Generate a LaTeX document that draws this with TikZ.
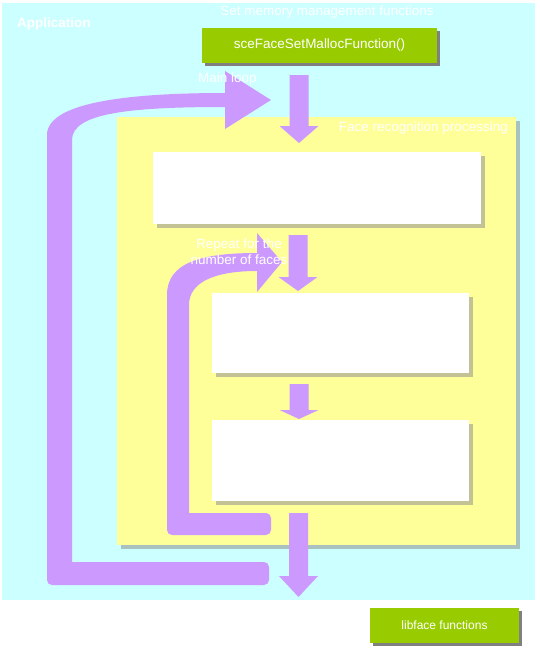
\documentclass[tikz,border=0pt]{standalone}
\usepackage{fontspec}
\setmainfont{Liberation Sans}
\usetikzlibrary{shadows}
\definecolor{cyanbg}{HTML}{CCFFFF}
\definecolor{yellowbg}{HTML}{FFFF99}
\definecolor{purp}{HTML}{CC99FF}
\definecolor{greenc}{HTML}{99CC00}
\definecolor{yshadow}{HTML}{A9C2C0}
\definecolor{wshadow}{HTML}{C2C294}
\definecolor{gshadow}{HTML}{808080}
\newcommand\dnarrow[4]{% cx, top, base, tip
  \fill[purp] (#1-9.5,#2) -- (#1+9.5,#2) -- (#1+9.5,#3) -- (#1+19.5,#3) -- (#1,#4) -- (#1-19.5,#3) -- (#1-9.5,#3) -- cycle;}
\begin{document}
\begin{tikzpicture}[x=1pt,y=-1pt,
  panel/.style={inner sep=0pt, outer sep=0pt, draw=none},
  whitebox/.style={panel, fill=white, drop shadow={shadow xshift=4pt, shadow yshift=-4pt, fill=wshadow, opacity=1}},
  greenbox/.style={panel, fill=greenc, text=white, drop shadow={shadow xshift=3pt, shadow yshift=-3pt, fill=gshadow, opacity=1}},
  lbl/.style={text=white, inner sep=0pt, font=\fontsize{13.5}{16}\selectfont}]
\useasboundingbox (0,0) rectangle (540,651);
\fill[white] (0,0) rectangle (540,651);
% application area
\node[panel, fill=cyanbg, minimum width=533pt, minimum height=597pt] (app) at (268.5,301.5) {};
% face recognition processing area
\node[panel, fill=yellowbg, minimum width=399pt, minimum height=428pt,
  drop shadow={shadow xshift=4pt, shadow yshift=-4pt, fill=yshadow, opacity=1}] (frp) at (316.5,331) {};
% white boxes
\node[whitebox, minimum width=328pt, minimum height=72pt] (b1) at (317,188) {};
\node[whitebox, minimum width=257pt, minimum height=80pt] (b2) at (340.5,333) {};
\node[whitebox, minimum width=257pt, minimum height=81pt] (b3) at (340.5,460.5) {};
% main loop arrow
\fill[purp] (47,572) -- (47,135) .. controls (47,104) and (120,93) .. (225,93) -- (225,71) -- (271,100) -- (225,129) -- (225,107) .. controls (130,107) and (72,113) .. (72,140) -- (72,572) -- cycle;
\fill[purp, rounded corners=5pt] (47,562) rectangle (269,585);
% repeat loop arrow
\fill[purp] (167,525) -- (167,295) .. controls (167,263) and (200,253) .. (257,253) -- (257,233) -- (282,262) -- (257,292) -- (257,271) .. controls (215,271) and (189,282) .. (189,305) -- (189,525) -- cycle;
\fill[purp, rounded corners=5pt] (167,513) rectangle (271,535);
% straight down arrows
\dnarrow{299}{75}{126}{143}
\dnarrow{298}{235}{277}{291}
\dnarrow{299}{384}{410}{419}
\dnarrow{298.5}{513}{576}{597}
% green boxes
\node[greenbox, minimum width=235pt, minimum height=35pt, font=\fontsize{13.5}{16}\selectfont] (malloc) at (319.5,45.5) {sceFaceSetMallocFunction()};
\node[greenbox, minimum width=149pt, minimum height=35pt, font=\fontsize{12}{14}\selectfont] (libface) at (444.5,625.5) {libface functions};
% labels
\node[lbl, font=\fontsize{13.5}{16}\selectfont\bfseries, anchor=west] (applbl) at (17,24) {Application};
\node[lbl] (memlbl) at (327,12) {Set memory management functions};
\node[lbl] (mainlbl) at (227.5,79) {Main loop};
\node[lbl, anchor=east] (frplbl) at (508,128) {Face recognition processing};
\node[lbl, align=center] (replbl) at (239,252) {Repeat for the\\number of faces};
\end{tikzpicture}
\end{document}
